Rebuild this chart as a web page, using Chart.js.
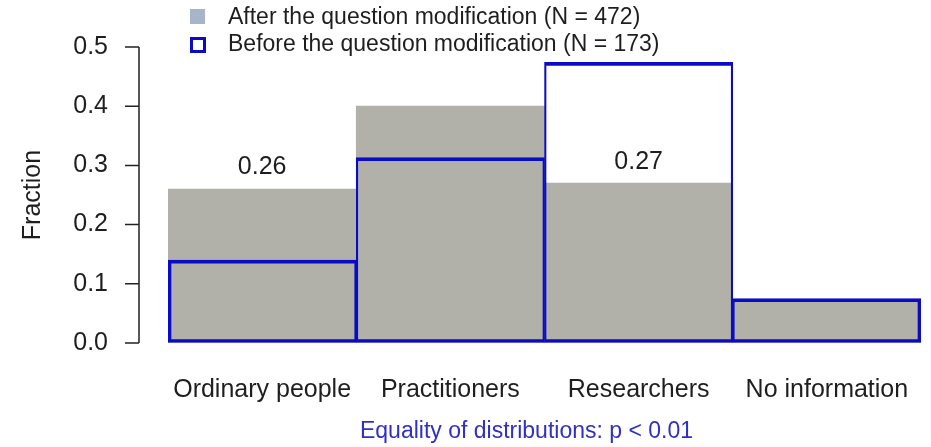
<!DOCTYPE html>
<html>
<head>
<meta charset="utf-8">
<script src="https://cdn.jsdelivr.net/npm/chart.js@4.4.0/dist/chart.umd.min.js"></script>
<style>
    html, body { margin: 0; padding: 0; background: #fff; }
</style>
</head>
<body>
<canvas id="fractionChart" width="931" height="447"></canvas>
<script>
// --- Data ---
const categories = ['Ordinary people', 'Practitioners', 'Researchers', 'No information'];
const afterValues = [0.26, 0.40, 0.27, 0.072];
const beforeValues = [0.14, 0.313, 0.474, 0.075];
const valueLabels = ['0.26', '', '0.27', ''];
const yTicks = [0, 0.1, 0.2, 0.3, 0.4, 0.5];

const afterLabel = 'After the question modification (N = 472)';
const beforeLabel = 'Before the question modification (N = 173)';
const yTitle = 'Fraction';
const footnote = 'Equality of distributions: p < 0.01';

const FONT = '"Liberation Sans", Arial, sans-serif';
const GRAY = '#b1b1aa';
const BLUE = '#0b0bc6';
const TEXT = '#1e1e1e';

// --- R-style axis, value labels, legend and footnote ---
const decorations = {
    id: 'decorations',
    afterDraw(chart) {
        const ctx = chart.ctx;
        const area = chart.chartArea;
        const yScale = chart.scales.y;
        const axisX = area.left - 29;

        ctx.save();
        ctx.strokeStyle = '#222';
        ctx.lineWidth = 1.5;
        ctx.beginPath();
        ctx.moveTo(axisX, yScale.getPixelForValue(yTicks[0]));
        ctx.lineTo(axisX, yScale.getPixelForValue(yTicks[yTicks.length - 1]));
        yTicks.forEach(t => {
            const py = yScale.getPixelForValue(t);
            ctx.moveTo(axisX - 14, py);
            ctx.lineTo(axisX, py);
        });
        ctx.stroke();

        // numbers above the grey bars
        const meta = chart.getDatasetMeta(0);
        ctx.font = '25px ' + FONT;
        ctx.fillStyle = TEXT;
        ctx.textAlign = 'center';
        ctx.textBaseline = 'middle';
        valueLabels.forEach((txt, i) => {
            if (!txt) return;
            const bar = meta.data[i];
            ctx.fillText(txt, bar.x, bar.y - 21.5);
        });

        // legend
        ctx.fillStyle = '#a6b5c9';
        ctx.fillRect(190, 9, 15, 15);
        ctx.strokeStyle = BLUE;
        ctx.lineWidth = 3;
        ctx.strokeRect(191.5, 38.5, 13, 13);
        ctx.font = '23px ' + FONT;
        ctx.fillStyle = TEXT;
        ctx.textAlign = 'left';
        ctx.fillText(afterLabel, 228, 18);
        ctx.fillText(beforeLabel, 228, 45);

        // footnote
        ctx.font = '23px ' + FONT;
        ctx.fillStyle = '#3030c4';
        ctx.textAlign = 'center';
        ctx.fillText(footnote, (area.left + area.right) / 2 - 18, 432);
        ctx.restore();
    }
};

const ctx = document.getElementById('fractionChart').getContext('2d');

new Chart(ctx, {
    type: 'bar',
    data: {
        labels: categories,
        datasets: [{
            label: afterLabel,
            data: afterValues,
            backgroundColor: GRAY,
            borderWidth: 0,
            grouped: false,
            barPercentage: 1,
            categoryPercentage: 1,
            order: 2
        }, {
            label: beforeLabel,
            data: beforeValues,
            backgroundColor: 'rgba(0,0,0,0)',
            borderColor: BLUE,
            borderWidth: c => ({
                top: 3,
                bottom: 3,
                left: c.dataIndex === 0 ? 3 : 1.5,
                right: c.dataIndex === categories.length - 1 ? 3 : 1.5
            }),
            borderSkipped: false,
            grouped: false,
            barPercentage: 1,
            categoryPercentage: 1,
            order: 1
        }]
    },
    options: {
        responsive: false,
        animation: false,
        layout: { padding: { top: 47, right: 10, left: 0, bottom: 0 } },
        plugins: {
            legend: { display: false },
            tooltip: { enabled: false }
        },
        scales: {
            x: {
                // invisible tick marks give the label gap without padding the chart area
                grid: { display: true, drawOnChartArea: false, drawTicks: true, tickLength: 32, tickColor: 'rgba(0,0,0,0)' },
                border: { display: false },
                ticks: { color: TEXT, font: { family: FONT, size: 25 }, padding: 0, maxRotation: 0 },
                afterFit: s => { s.height = 104; }
            },
            y: {
                min: 0,
                max: 0.5,
                grid: { display: true, drawOnChartArea: false, drawTicks: true, tickLength: 60, tickColor: 'rgba(0,0,0,0)' },
                border: { display: false },
                ticks: {
                    stepSize: 0.1,
                    color: TEXT,
                    font: { family: FONT, size: 25 },
                    padding: 0,
                    callback: v => v.toFixed(1)
                },
                title: {
                    display: true,
                    text: yTitle,
                    color: TEXT,
                    font: { family: FONT, size: 25 },
                    padding: { top: 18, bottom: 0 }
                },
                afterFit: s => { s.width = 168; }
            }
        }
    },
    plugins: [decorations]
});
</script>
</body>
</html>
